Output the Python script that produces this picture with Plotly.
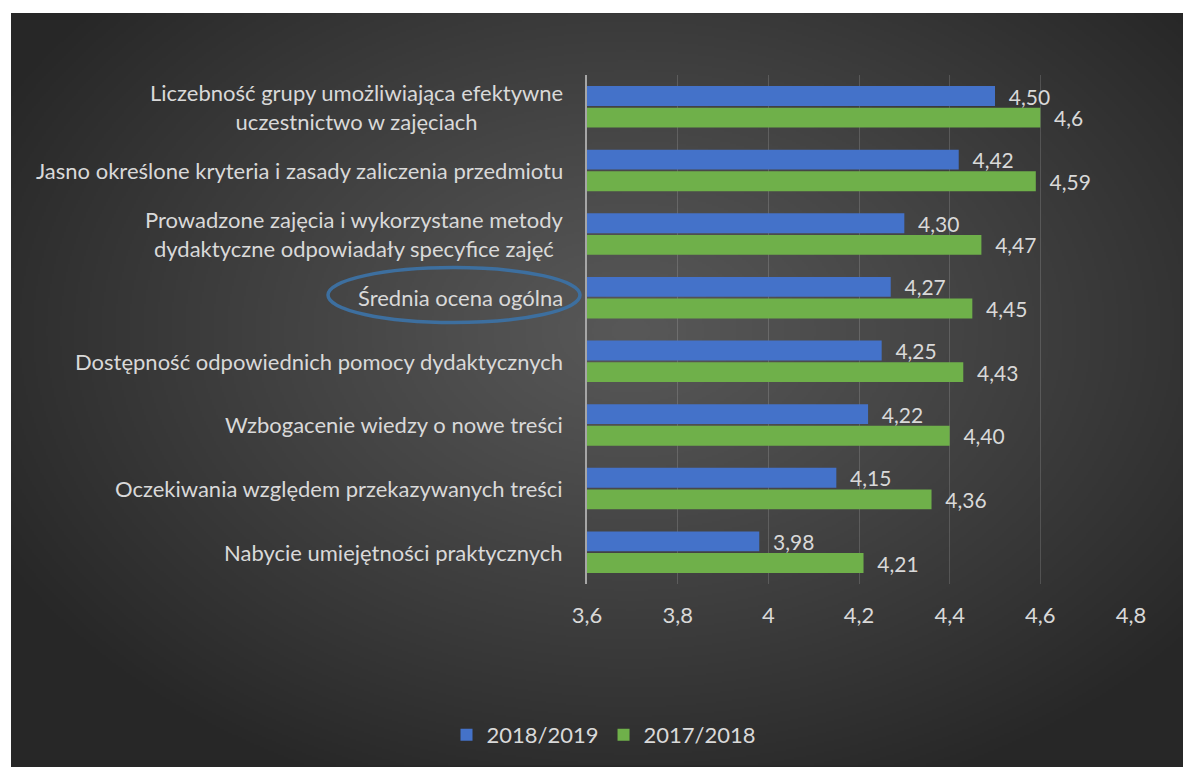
import base64
import struct
import zlib

import numpy as np
import plotly.graph_objects as go

# ---------------- data ----------------
categories = [
    "Liczebność grupy umożliwiająca efektywne<br>uczestnictwo w zajęciach",
    "Jasno określone kryteria i zasady zaliczenia przedmiotu",
    "Prowadzone zajęcia i wykorzystane metody<br>dydaktyczne odpowiadały specyfice zajęć",
    "Średnia ocena ogólna",
    "Dostępność odpowiednich pomocy dydaktycznych",
    "Wzbogacenie wiedzy o nowe treści",
    "Oczekiwania względem przekazywanych treści",
    "Nabycie umiejętności praktycznych",
]
series_names = ["2018/2019", "2017/2018"]
values_2018_2019 = [4.50, 4.42, 4.30, 4.27, 4.25, 4.22, 4.15, 3.98]
values_2017_2018 = [4.60, 4.59, 4.47, 4.45, 4.43, 4.40, 4.36, 4.21]
labels_2018_2019 = ["4,50", "4,42", "4,30", "4,27", "4,25", "4,22", "4,15", "3,98"]
labels_2017_2018 = ["4,6", "4,59", "4,47", "4,45", "4,43", "4,40", "4,36", "4,21"]
tick_values = [3.6, 3.8, 4.0, 4.2, 4.4, 4.6, 4.8]
tick_labels = ["3,6", "3,8", "4", "4,2", "4,4", "4,6", "4,8"]

# ---------------- style ----------------
W, H = 1183, 767
L, T = 587, 75
R = W - 1131
B = H - 585
PW, PH = W - L - R, H - T - B
FONT = "Lato, 'Open Sans', sans-serif"
FS = 22
TXT = "#d9d9d9"
BLUE = "#4472c9"
GREEN = "#6fb04a"
EDGE = "#272727"


def px_to_paper_x(px):
    return (px - L) / PW


def px_to_paper_y(py):
    return (H - B - py) / PH


# radial gradient background as a PNG data URI
def gradient_png(w, h):
    ys, xs = np.mgrid[0:h, 0:w].astype(float)
    X = 11 + xs * (1172 / w)
    Y = 13 + ys * (754 / h)
    d = np.sqrt(((X - 630) / 720) ** 2 + ((Y - 330) / 500) ** 2)
    d = np.clip(d, 0, 1)
    v = 88 - (88 - 39) * d ** 1.1
    v = v.astype(np.uint8)
    arr = np.stack([v, v, v], axis=-1)
    raw = b"".join(b"\x00" + arr[r].tobytes() for r in range(h))

    def chunk(tag, data):
        c = struct.pack(">I", len(data)) + tag + data
        return c + struct.pack(">I", zlib.crc32(tag + data) & 0xFFFFFFFF)

    png = b"\x89PNG\r\n\x1a\n"
    png += chunk(b"IHDR", struct.pack(">IIBBBBB", w, h, 8, 2, 0, 0, 0))
    png += chunk(b"IDAT", zlib.compress(raw, 9))
    png += chunk(b"IEND", b"")
    return "data:image/png;base64," + base64.b64encode(png).decode()


bg = gradient_png(586, 377)

fig = go.Figure()
for vals, labs, name, col in [
    (values_2018_2019, labels_2018_2019, series_names[0], BLUE),
    (values_2017_2018, labels_2017_2018, series_names[1], GREEN),
]:
    fig.add_trace(go.Bar(
        y=categories, x=vals, orientation="h", name=name,
        marker=dict(color=col, line=dict(width=0)),
        text=["\u00a0\u00a0" + t for t in labs], textposition="outside",
        constraintext="none",
        textfont=dict(family=FONT, size=21, color=TXT), cliponaxis=False,
    ))

annotations = []
for c in categories:
    annotations.append(dict(
        x=0, xref="paper", y=c, yref="y", xanchor="right", yanchor="middle",
        xshift=-22, text=c, showarrow=False, align="center",
        font=dict(family=FONT, size=FS, color=TXT),
    ))

white_border = [
    dict(type="rect", xref="paper", yref="paper", layer="above",
         x0=px_to_paper_x(-5), x1=px_to_paper_x(W + 5),
         y0=px_to_paper_y(13), y1=px_to_paper_y(-5),
         fillcolor="white", line=dict(width=0)),
    dict(type="rect", xref="paper", yref="paper", layer="above",
         x0=px_to_paper_x(-5), x1=px_to_paper_x(11),
         y0=px_to_paper_y(H + 5), y1=px_to_paper_y(-5),
         fillcolor="white", line=dict(width=0)),
]

fig.update_layout(
    width=W, height=H,
    margin=dict(l=L, r=R, t=T, b=B, pad=0),
    paper_bgcolor=EDGE, plot_bgcolor="rgba(0,0,0,0)",
    barmode="group", bargap=0.32, bargroupgap=0.08,
    font=dict(family=FONT, size=FS, color=TXT),
    xaxis=dict(
        range=[3.6, 4.8], tickvals=tick_values, ticktext=tick_labels,
        showgrid=True, gridcolor="rgba(255,255,255,0.15)", gridwidth=1,
        zeroline=False, showline=False, ticks="",
        tickfont=dict(family=FONT, size=FS, color=TXT), ticklabelstandoff=16,
    ),
    yaxis=dict(
        type="category", autorange="reversed", showticklabels=False,
        showgrid=False, zeroline=False, showline=True,
        linecolor="#a6a6a6", linewidth=2, ticks="",
    ),
    legend=dict(
        orientation="h", x=px_to_paper_x(604), xanchor="center",
        y=px_to_paper_y(735), yanchor="middle",
        font=dict(family=FONT, size=FS, color=TXT), bgcolor="rgba(0,0,0,0)",
        itemwidth=30,
    ),
    annotations=annotations,
    images=[dict(
        source=bg, xref="paper", yref="paper",
        x=px_to_paper_x(11), y=px_to_paper_y(13),
        sizex=1172 / PW, sizey=754 / PH, sizing="stretch",
        xanchor="left", yanchor="top", layer="below",
    )],
    shapes=[dict(
        type="circle", xref="paper", yref="paper",
        x0=px_to_paper_x(328), x1=px_to_paper_x(580),
        y0=px_to_paper_y(323), y1=px_to_paper_y(268),
        line=dict(color="#3d6f9f", width=3.5), fillcolor="rgba(0,0,0,0)",
    )] + white_border,
)

fig.write_html(
    "out.html",
    config={"displayModeBar": False},
    post_script=(
        "document.documentElement.style.overflow='hidden';"
        "document.documentElement.style.background='" + EDGE + "';"
        "document.body.style.margin='0';"
        "document.body.style.overflow='hidden';"
        "document.body.style.background='" + EDGE + "';"
    ),
)
